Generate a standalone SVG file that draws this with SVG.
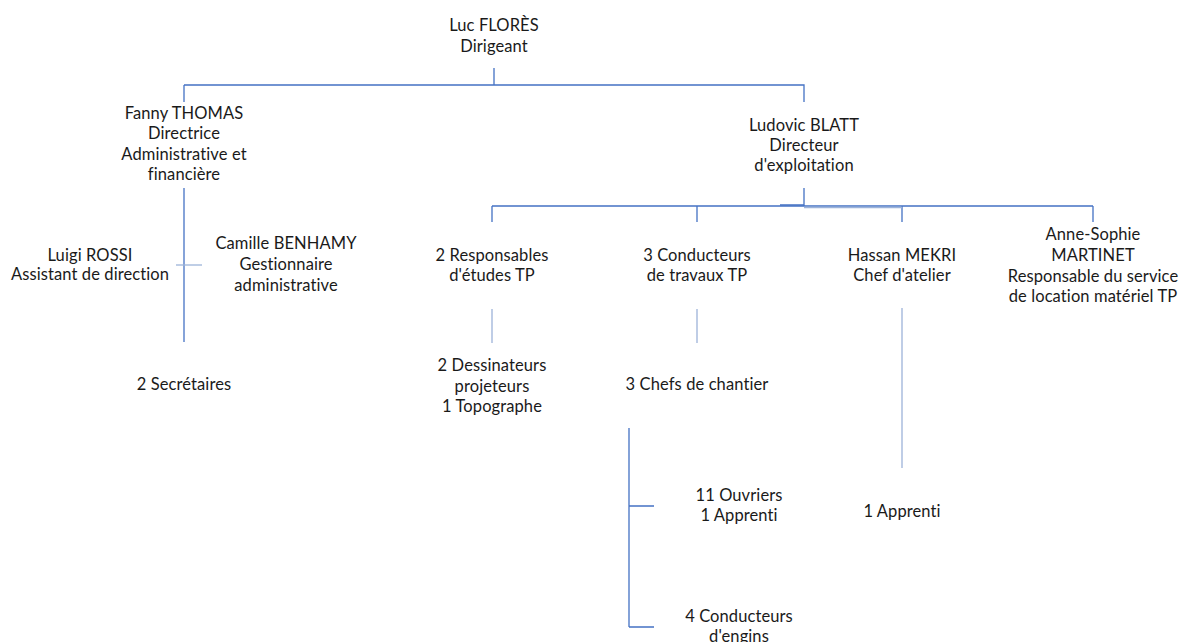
<svg xmlns="http://www.w3.org/2000/svg" width="1181" height="642" viewBox="0 0 1181 642">
<style>
text{font-family:Lato,"Liberation Sans",sans-serif;font-size:16.5px;letter-spacing:0.1px;fill:#1a1a1a;text-anchor:middle}
.c{stroke:#4472c4;stroke-width:1.3;fill:none}
.l{stroke:#9db3d9;stroke-width:1.3;fill:none}
</style>
<rect width="1181" height="642" fill="#fff"/>
<g id="connectors">
<path class="c" d="M494 68V85M184 85H804V102M184 85V102"/>
<path class="c" d="M184 188V342"/>
<path class="l" d="M176 265H202"/>
<path class="c" d="M804 188V206M780 205H804"/>
<path class="c" d="M492 206H1093M492 206V222M697 206V222M902 206V222M1093 206V222"/>
<path class="l" d="M804 207.5H902"/>
<path class="l" d="M492 309V343M697 309V343M902 308V468"/>
<path class="c" d="M629 428V627M629 506H654M629 627H654"/>
</g>
<g id="n-flores"><text x="494" y="31">Luc FLORÈS</text><text x="494" y="52">Dirigeant</text></g>
<g id="n-thomas"><text x="184" y="119">Fanny THOMAS</text><text x="184" y="139">Directrice</text><text x="184" y="160">Administrative et</text><text x="184" y="180">financière</text></g>
<g id="n-blatt"><text x="804" y="131">Ludovic BLATT</text><text x="804" y="151">Directeur</text><text x="804" y="171">d'exploitation</text></g>
<g id="n-rossi"><text x="90" y="261">Luigi ROSSI</text><text x="90" y="280">Assistant de direction</text></g>
<g id="n-benhamy"><text x="286" y="249">Camille BENHAMY</text><text x="286" y="270">Gestionnaire</text><text x="286" y="291">administrative</text></g>
<g id="n-secretaires"><text x="184" y="390">2 Secrétaires</text></g>
<g id="n-responsables"><text x="492" y="261">2 Responsables</text><text x="492" y="281">d'études TP</text></g>
<g id="n-conducteurs"><text x="697" y="261">3 Conducteurs</text><text x="697" y="281">de travaux TP</text></g>
<g id="n-mekri"><text x="902" y="261">Hassan MEKRI</text><text x="902" y="281">Chef d'atelier</text></g>
<g id="n-martinet"><text x="1093" y="240">Anne-Sophie</text><text x="1093" y="261">MARTINET</text><text x="1093" y="282">Responsable du service</text><text x="1093" y="302">de location matériel TP</text></g>
<g id="n-dessinateurs"><text x="492" y="371">2 Dessinateurs</text><text x="492" y="392">projeteurs</text><text x="492" y="412">1 Topographe</text></g>
<g id="n-chefs"><text x="697" y="390">3 Chefs de chantier</text></g>
<g id="n-apprenti"><text x="902" y="517">1 Apprenti</text></g>
<g id="n-ouvriers"><text x="739" y="501">11 Ouvriers</text><text x="739" y="521">1 Apprenti</text></g>
<g id="n-engins"><text x="739" y="622">4 Conducteurs</text><text x="739" y="642">d'engins</text></g>
</svg>
